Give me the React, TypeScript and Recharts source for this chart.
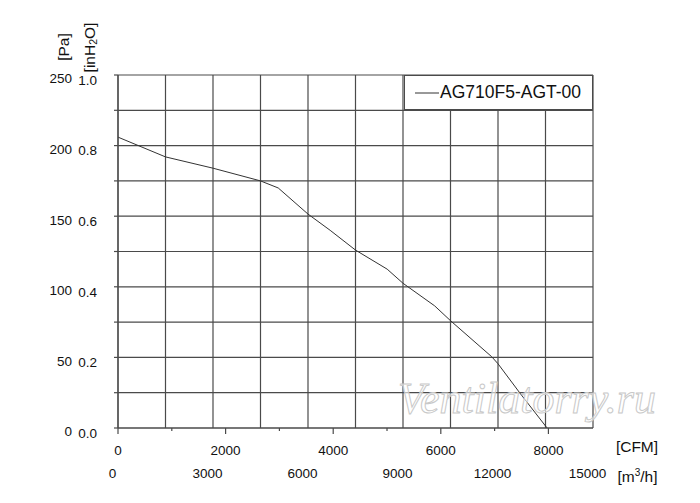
import React from 'react';
import { LineChart, Line, XAxis, YAxis, CartesianGrid, Legend } from 'recharts';

// Flow in m³/h and static pressure in Pa
const flowM3h = [0, 1500, 3000, 4500, 5060, 6000, 6700, 7500, 8500, 9000, 10000, 10500, 11800, 12000, 12700, 13550];
const pressurePa = [206, 192, 184, 175, 170, 151.5, 140, 126, 112.5, 102.5, 86.5, 76, 50.5, 45.5, 24.5, 0];
const seriesName = 'AG710F5-AGT-00';

const m3hTicks = [0, 1500, 3000, 4500, 6000, 7500, 9000, 10500, 12000, 13500, 15000];
const m3hLabelStep = 3000;
const cfmTicks = [0, 1000, 2000, 3000, 4000, 5000, 6000, 7000, 8000];
const cfmLabelStep = 2000;
const paTicks = [0, 25, 50, 75, 100, 125, 150, 175, 200, 225, 250];
const paLabelStep = 50;
const inH2OTicks = [0, 0.1, 0.2, 0.3, 0.4, 0.5, 0.6, 0.7, 0.8, 0.9, 1.0];

const M3H_MAX = 15000;
const M3H_PER_CFM = 1.699;
const CFM_MAX = M3H_MAX / M3H_PER_CFM;

const data = flowM3h.map((f, i) => ({ flow: f, cfm: f / M3H_PER_CFM, pa: pressurePa[i], inH2O: pressurePa[i] / 250 }));

const FONT = '"Liberation Sans", Arial, sans-serif';
const TICK_FS = 13.5;
const TXT = '#111';
const GRID = '#4a4a4a';

const PaTick = (props: any) => {
  const { x, y, payload } = props;
  if (payload.value % paLabelStep !== 0) return <g />;
  return (
    <text x={x} y={y + 8.3} textAnchor="end" fontSize={TICK_FS} fontFamily={FONT} fill={TXT}>
      {payload.value}
    </text>
  );
};

const InTick = (props: any) => {
  const { x, y, payload } = props;
  if (Math.round(payload.value * 10) % 2 !== 0) return <g />;
  return (
    <text x={x} y={y + 9.8} textAnchor="end" fontSize={TICK_FS} fontFamily={FONT} fill={TXT}>
      {payload.value.toFixed(1)}
    </text>
  );
};

const CfmTick = (props: any) => {
  const { x, y, payload } = props;
  const labelled = payload.value % cfmLabelStep === 0;
  const top = y - 17;
  return (
    <g>
      <line x1={x} x2={x} y1={top} y2={top + (labelled ? 6 : 3)} stroke={GRID} strokeWidth={1.2} />
      {labelled && (
        <text x={x} y={y + 9.7} textAnchor="middle" fontSize={TICK_FS} fontFamily={FONT} fill={TXT}>
          {payload.value}
        </text>
      )}
    </g>
  );
};

const M3hTick = (props: any) => {
  const { x, y, payload } = props;
  if (payload.value % m3hLabelStep !== 0) return <g />;
  return (
    <text x={x - 5.5} y={y + 9.7} textAnchor="middle" fontSize={TICK_FS} fontFamily={FONT} fill={TXT}>
      {payload.value}
    </text>
  );
};

const PaTitle = (props: any) => {
  const vb = props.viewBox;
  const cx = vb.x + vb.width - 15;
  const cy = vb.y - 28;
  return (
    <text x={cx} y={cy} transform={`rotate(-90 ${cx} ${cy})`} textAnchor="middle" dominantBaseline="central"
      fontSize={15.5} fontFamily={FONT} fill={TXT}>
      [Pa]
    </text>
  );
};

const InTitle = (props: any) => {
  const vb = props.viewBox;
  const cx = vb.x + 11;
  const cy = vb.y - 27.5;
  return (
    <text x={cx} y={cy} transform={`rotate(-90 ${cx} ${cy})`} textAnchor="middle" dominantBaseline="central"
      fontSize={15.5} fontFamily={FONT} fill={TXT}>
      [inH<tspan fontSize={10.5} dy={4}>2</tspan><tspan dy={-4}>O]</tspan>
    </text>
  );
};

const CfmTitle = (props: any) => {
  const vb = props.viewBox;
  return (
    <text x={vb.x + vb.width + 44} y={vb.y + 24} textAnchor="middle" fontSize={15.5} fontFamily={FONT} fill={TXT}>
      [CFM]
    </text>
  );
};

const M3hTitle = (props: any) => {
  const vb = props.viewBox;
  return (
    <text x={vb.x + vb.width + 44.5} y={vb.y + 23.5} textAnchor="middle" fontSize={15.5} fontFamily={FONT} fill={TXT}>
      [m<tspan fontSize={10} dy={-6}>3</tspan><tspan dy={6}>/h]</tspan>
    </text>
  );
};

const LegendBox = (props: any) => {
  const item = (props.payload && props.payload[0]) || { value: seriesName, color: '#333' };
  return (
    <div
      style={{
        boxSizing: 'border-box',
        width: 189,
        height: 35,
        border: `1.3px solid ${GRID}`,
        background: '#fff',
        display: 'flex',
        alignItems: 'center',
        fontFamily: FONT,
        fontSize: 17.5,
        color: TXT,
        whiteSpace: 'nowrap',
      }}
    >
      <svg width={24} height={4} style={{ marginLeft: 10, marginRight: 1, display: 'block' }}>
        <line x1={0} x2={24} y1={2} y2={2} stroke="#333" strokeWidth={1} />
      </svg>
      <span>{item.value}</span>
    </div>
  );
};

export default function App() {
  return (
    <div style={{ position: 'relative', width: 692, height: 495 }}>
      <LineChart width={692} height={495} data={data} margin={{ top: 67, right: 107, bottom: 15, left: 0 }}>
        <CartesianGrid xAxisId="m3" yAxisId="pa" stroke={GRID} strokeWidth={1.2} />
        <XAxis
          xAxisId="cfm"
          dataKey="cfm"
          type="number"
          domain={[0, CFM_MAX]}
          allowDataOverflow
          ticks={cfmTicks}
          interval={0}
          height={30}
          tickSize={5}
          tickMargin={12}
          tickLine={false}
          axisLine={{ stroke: GRID, strokeWidth: 1.2 }}
          tick={<CfmTick />}
          label={<CfmTitle />}
        />
        <XAxis
          xAxisId="m3"
          dataKey="flow"
          type="number"
          domain={[0, M3H_MAX]}
          allowDataOverflow
          ticks={m3hTicks}
          interval={0}
          height={30}
          tickSize={0}
          tickMargin={10}
          tickLine={false}
          axisLine={false}
          tick={<M3hTick />}
          label={<M3hTitle />}
        />
        <YAxis
          yAxisId="in"
          dataKey="inH2O"
          type="number"
          domain={[0, 1]}
          allowDataOverflow
          ticks={inH2OTicks}
          interval={0}
          width={40}
          tickSize={4}
          tickMargin={17}
          tickLine={{ stroke: GRID, strokeWidth: 1.2 }}
          axisLine={{ stroke: GRID, strokeWidth: 1.2 }}
          tick={<InTick />}
          label={<InTitle />}
        />
        <YAxis
          yAxisId="pa"
          type="number"
          domain={[0, 250]}
          allowDataOverflow
          ticks={paTicks}
          interval={0}
          width={70}
          tickSize={0}
          tickMargin={6}
          tickLine={false}
          axisLine={false}
          tick={<PaTick />}
          label={<PaTitle />}
        />
        <Legend
          layout="vertical"
          align="center"
          verticalAlign="middle"
          wrapperStyle={{ position: 'absolute', left: 396, top: 67, width: 189, height: 35, margin: 0, padding: 0 }}
          content={<LegendBox />}
        />
        <Line
          xAxisId="m3"
          yAxisId="pa"
          type="linear"
          dataKey="pa"
          name={seriesName}
          stroke="#333"
          strokeWidth={1}
          dot={false}
          activeDot={false}
          isAnimationActive={false}
        />
      </LineChart>
      <svg width={692} height={495} style={{ position: 'absolute', left: 0, top: 0, pointerEvents: 'none' }}>
        <text x={390} y={405} fontSize={44} fontStyle="italic" fontFamily='"Liberation Serif", "DejaVu Serif", serif'
          fill="#ffffff" fillOpacity={0.6} stroke="#c8c8c8" strokeWidth={1}>
          Ventilatorry.ru
        </text>
      </svg>
    </div>
  );
}
